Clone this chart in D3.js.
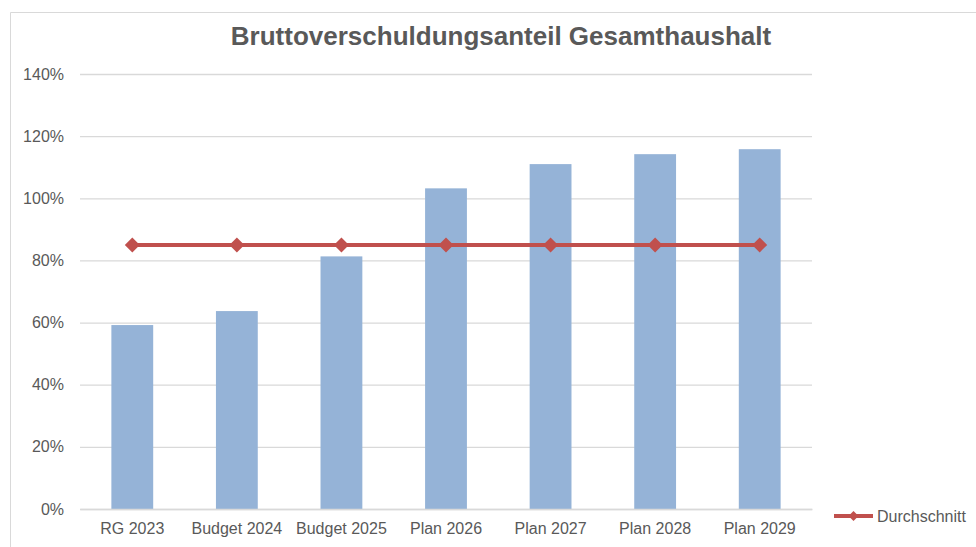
<!DOCTYPE html>
<html>
<head>
<meta charset="utf-8">
<script src="https://cdn.jsdelivr.net/npm/d3@7"></script>
<style>
  html, body { margin: 0; padding: 0; background: #fff; overflow: hidden; }
  svg { display: block; }
  text { font-family: "Liberation Sans", Arial, sans-serif; fill: #595959; }
</style>
</head>
<body>
<svg id="chart" width="976" height="547"></svg>
<script>
// chart data
const categories = ['RG 2023', 'Budget 2024', 'Budget 2025', 'Plan 2026', 'Plan 2027', 'Plan 2028', 'Plan 2029'];
const shareValues = [59.2, 63.7, 81.3, 103.2, 111.0, 114.2, 115.8];
const averageValues = [85, 85, 85, 85, 85, 85, 85];
const yTicks = [0, 20, 40, 60, 80, 100, 120, 140];
const titleText = 'Bruttoverschuldungsanteil Gesamthaushalt';
const legendLabel = 'Durchschnitt';

const width = 976;
const height = 547;
const margin = { top: 74, right: 164, bottom: 38, left: 80 };
const innerWidth = width - margin.left - margin.right;
const innerHeight = height - margin.top - margin.bottom;

const svg = d3.select('#chart');

// chart frame: only the top and left edges are visible in the crop
svg.append('path')
  .attr('d', `M10.5,${height}V12.5H${width}`)
  .attr('fill', 'none')
  .attr('stroke', '#d9d9d9');

svg.append('text')
  .attr('x', 501).attr('y', 45)
  .attr('text-anchor', 'middle')
  .attr('font-size', 26)
  .attr('font-weight', 'bold')
  .text(titleText);

const g = svg.append('g')
  .attr('transform', `translate(${margin.left},${margin.top})`);

const x = d3.scaleBand()
  .domain(categories)
  .range([0, innerWidth])
  .paddingInner(0.6)
  .paddingOuter(0.3);

const y = d3.scaleLinear()
  .domain([0, 140])
  .range([innerHeight, 0]);

const styleText = sel => sel
  .attr('font-size', 16)
  .attr('fill', '#595959')
  .attr('font-family', '"Liberation Sans", Arial, sans-serif');

// gridlines + y labels
const yAxis = d3.axisLeft(y)
  .tickValues(yTicks)
  .tickSize(-innerWidth)
  .tickPadding(16)
  .tickFormat(d => d + '%');

g.append('g')
  .call(yAxis)
  .call(a => a.select('.domain').remove())
  .call(a => a.selectAll('line').attr('stroke', '#d9d9d9').attr('stroke-width', 1.3))
  .call(a => styleText(a.selectAll('text')));

// bars
g.selectAll('.bar')
  .data(shareValues)
  .enter()
  .append('rect')
  .attr('class', 'bar')
  .attr('x', (d, i) => x(categories[i]))
  .attr('y', d => y(d))
  .attr('width', x.bandwidth())
  .attr('height', d => innerHeight - y(d))
  .attr('fill', '#95b3d7');

// x axis
const xAxis = d3.axisBottom(x).tickSize(0).tickPadding(14);
g.append('g')
  .attr('transform', `translate(0,${innerHeight})`)
  .call(xAxis)
  .call(a => a.select('.domain').attr('stroke', '#d9d9d9').attr('stroke-width', 1.3))
  .call(a => styleText(a.selectAll('text')));

// average line
const cx = c => x(c) + x.bandwidth() / 2;
const line = d3.line()
  .x((d, i) => cx(categories[i]))
  .y(d => y(d));

g.append('path')
  .datum(averageValues)
  .attr('d', line)
  .attr('fill', 'none')
  .attr('stroke', '#c0504d')
  .attr('stroke-width', 4);

// square diamond like the spreadsheet marker
const diamondPath = r => `M0,${-r}L${r},0L0,${r}L${-r},0Z`;
g.selectAll('.marker')
  .data(averageValues)
  .enter()
  .append('path')
  .attr('class', 'marker')
  .attr('d', diamondPath(7.5))
  .attr('transform', (d, i) => `translate(${cx(categories[i])},${y(d)})`)
  .attr('fill', '#c0504d');

// legend
const legend = svg.append('g').attr('transform', 'translate(834,516)');
legend.append('line')
  .attr('x1', 0).attr('x2', 39)
  .attr('stroke', '#c0504d').attr('stroke-width', 4);
legend.append('path')
  .attr('d', diamondPath(5))
  .attr('transform', 'translate(19.5,0)')
  .attr('fill', '#c0504d');
legend.append('text')
  .attr('x', 43).attr('y', 6)
  .attr('font-size', 16)
  .text(legendLabel);
</script>
</body>
</html>
